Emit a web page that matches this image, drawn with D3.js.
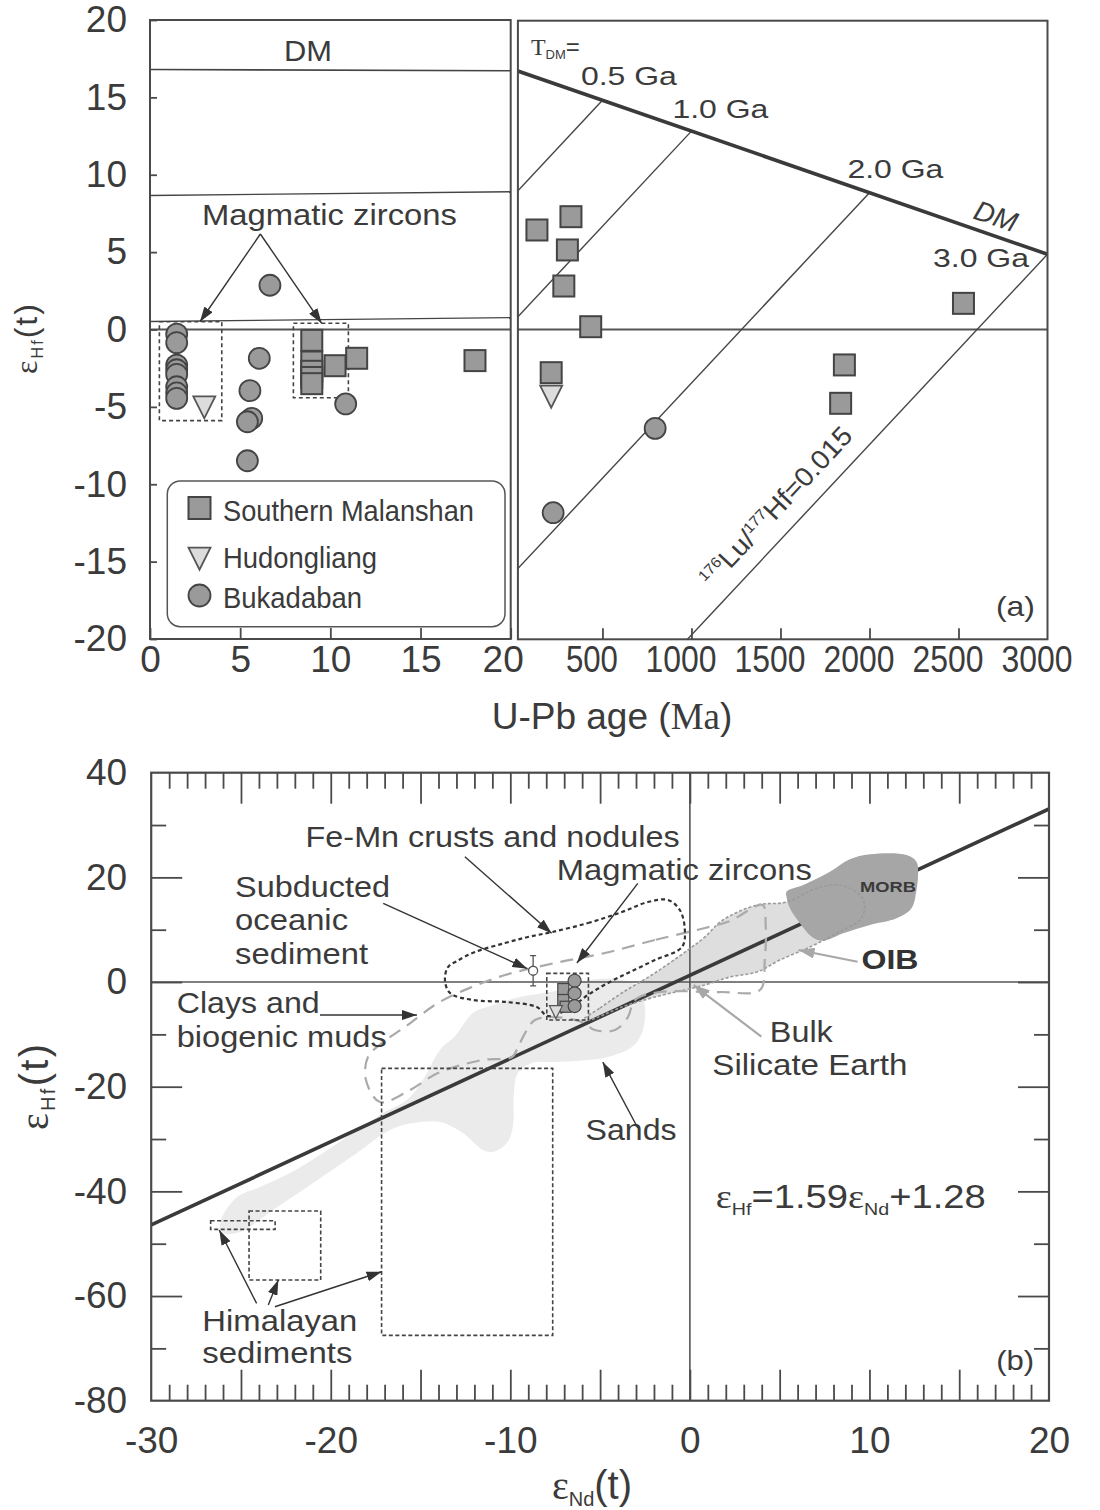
<!DOCTYPE html>
<html>
<head>
<meta charset="utf-8">
<script src="https://cdn.jsdelivr.net/npm/d3@7"></script>
<style>
  body { margin: 0; background: #fff; }
  svg text { font-family: "Liberation Sans", Arial, Helvetica, sans-serif; fill: #3b3b3b; }
</style>
</head>
<body>
<svg id="fig" width="1100" height="1510"></svg>
<script>
// ================= Panel (a): zircon εHf(t) versus U-Pb age =================
// Depleted-mantle evolution and crustal (176Lu/177Hf = 0.015) model-age lines
const dmPresent = 16.8;          // εHf of depleted mantle today
const dmAt3000 = 4.86;           // εHf of depleted mantle at 3000 Ma
const crustSlope = 0.0123;       // εHf change per Myr for 176Lu/177Hf = 0.015
const modelAgesMa = [500, 1000, 2000, 3000];
const modelAgeLabels = ["0.5 Ga", "1.0 Ga", "2.0 Ga", "3.0 Ga"];
const youngPanelModelAges = [500, 1000];

// [U-Pb age (Ma), εHf(t)]
const malanshanYoung = [[8.97, -0.7], [8.97, -2.1], [8.97, -2.7], [8.97, -3.1], [8.97, -3.5],
                        [10.26, -2.34], [11.46, -1.86], [18.02, -2.01]];
const malanshanOld = [[132, 6.43], [323, 7.29], [303, 5.14], [283, 2.81], [434, 0.18],
                      [2528, 1.69], [212, -2.79], [1859, -2.29], [1838, -4.77]];
const hudongliangYoung = [[3.01, -4.79]];
const hudongliangOld = [[212, -4.1]];
const bukadabanYoung = [[1.48, -0.3], [1.48, -0.85], [1.48, -2.3], [1.48, -2.6], [1.48, -2.9],
                        [1.48, -3.7], [1.48, -4.1], [1.48, -4.45], [6.06, -1.86], [5.54, -3.95],
                        [5.64, -5.74], [5.40, -5.96], [5.40, -8.48], [10.85, -4.81], [6.65, 2.86]];
const bukadabanOld = [[796, -6.39], [223, -11.84]];
// magmatic zircon groups: [ageMin, ageMax, εHfMin, εHfMax]
const magmaticGroupsA = [[0.52, 3.98, -5.89, 0.5], [7.95, 11.0, -4.41, 0.4]];

const youngTicks = [0, 5, 10, 15, 20];
const oldTicks = [500, 1000, 1500, 2000, 2500, 3000];
const hfTicksA = [20, 15, 10, 5, 0, -5, -10, -15, -20];
const legendNames = ["Southern Malanshan", "Hudongliang", "Bukadaban"];

// ================= Panel (b): εHf(t) versus εNd(t) =================
const arraySlope = 1.59, arrayIntercept = 1.28;   // terrestrial array
const ndTicks = [-30, -20, -10, 0, 10, 20];
const hfTicksB = [40, 20, 0, -20, -40, -60, -80];

// [εNd, εHf] outlines of the reference fields
const sandsField = [[-26.17,-46.05],[-25.22,-41.08],[-23.94,-39.17],[-22.27,-36.50],[-20.43,-32.67],
  [-18.54,-28.28],[-17.09,-25.03],[-15.76,-22.55],[-14.87,-18.73],[-13.92,-12.99],[-13.08,-10.32],
  [-12.08,-5.92],[-10.97,-4.39],[-9.47,-2.87],[-7.24,-1.53],[-5.57,0.38],[-3.78,0.38],[-2.89,-0.96],
  [-2.50,-4.78],[-2.67,-9.75],[-3.23,-12.42],[-4.57,-14.33],[-5.68,-14.91],[-7.52,-15.29],
  [-8.80,-15.48],[-9.58,-17.39],[-9.80,-21.21],[-9.86,-27.71],[-10.19,-30.77],[-10.97,-32.48],
  [-11.53,-32.10],[-12.64,-28.86],[-13.92,-26.75],[-15.42,-26.94],[-16.70,-28.28],[-18.54,-32.67],
  [-20.99,-38.41],[-23.22,-43.57],[-25.06,-47.78],[-26.00,-47.97]];
const oibField = [[-5.96,-7.26],[-5.01,-4.97],[-3.79,-2.10],[-1.95,1.72],[-0.11,6.12],[0.83,8.60],
  [1.84,11.85],[3.73,14.71],[5.40,15.29],[7.07,17.96],[8.35,18.54],[9.47,16.63],[9.74,14.33],
  [9.47,11.85],[8.52,9.94],[7.80,8.60],[6.68,6.69],[5.01,4.20],[3.73,1.91],[2.23,0.96],
  [0.83,-0.57],[-1.95,-2.87],[-3.79,-4.78],[-5.57,-7.26]];
const morbField = [[5.38,17.26],[6.31,18.54],[7.80,21.08],[8.91,23.45],[10.03,24.40],[12.07,24.27],
  [12.62,22.99],[12.71,20.77],[12.62,17.58],[12.34,14.08],[11.51,12.17],[10.03,10.89],[8.54,9.31],
  [7.42,7.89],[6.78,8.66],[6.13,11.22],[5.57,14.08],[5.38,16.30]];
const claysField = [[0.84,10.32],[-1.95,8.03],[-4.73,5.54],[-7.52,3.63],[-10.30,1.34],[-12.14,-0.96],
  [-14.03,-4.01],[-15.87,-8.60],[-17.15,-11.66],[-17.93,-14.33],[-18.04,-18.73],[-17.26,-22.93],
  [-15.59,-20.64],[-14.03,-17.39],[-11.58,-14.91],[-9.91,-14.33],[-9.57,-12.42],[-9.18,-9.75],
  [-8.63,-7.26],[-7.52,-6.69],[-6.01,-7.64],[-5.29,-9.17],[-4.17,-9.17],[-3.45,-6.69],[-3.06,-3.44],
  [-1.67,-1.91],[1.67,-1.91],[3.90,-1.53],[4.17,4.20],[4.22,10.89],[4.05,14.71],[2.23,11.66]];
const feMnField = [[-7.68,9.55],[-5.68,11.27],[-3.78,13.38],[-2.34,15.29],[-1.22,15.67],[-0.56,13.76],
  [-0.28,9.94],[-0.44,6.69],[-1.95,4.20],[-3.45,1.72],[-4.57,-0.19],[-5.68,-2.48],[-6.68,-4.97],
  [-7.91,-6.50],[-8.52,-4.78],[-10.19,-3.82],[-12.08,-3.44],[-13.36,-2.10],[-13.64,0.38],
  [-13.47,2.87],[-12.97,4.01],[-11.97,5.73],[-10.30,7.45],[-9.02,8.60]];
// Himalayan sediment ranges: [εNdMin, εNdMax, εHfMin, εHfMax]
const himalayanRanges = [[-26.69, -23.10, -47.27, -45.62], [-24.55, -20.56, -56.95, -43.76],
                         [-17.17, -7.64, -67.51, -16.49]];
const magmaticBoxB = [-7.97, -5.65, -7.26, 1.65];
const zirconSquaresB = [[-7.05, -1.34], [-7.05, -3.44], [-6.92, -4.72]];
const zirconCirclesB = [[-6.42, 0.25], [-6.42, -2.16], [-6.42, -4.59]];
const zirconTrianglesB = [[-7.46, -5.35]];
const subductedSediment = { nd: -8.73, hf: 2.16, err: 2.9 };

// ================= drawing =================
const INK = "#3b3b3b", FRAME = "#4a4a4a", SYM = "#9a9a9a", SYM_LIGHT = "#dcdcdc";
const SERIF = '"Liberation Serif", "Times New Roman", serif';
const plainNumber = d => (d < 0 ? "-" + Math.abs(d) : String(d));
const svg = d3.select("#fig");
const defs = svg.append("defs");

function arrowMarker(id, color, len, wid) {
  defs.append("marker").attr("id", id).attr("markerUnits", "userSpaceOnUse")
    .attr("viewBox", `0 0 ${len} ${wid}`).attr("refX", len).attr("refY", wid / 2)
    .attr("markerWidth", len).attr("markerHeight", wid).attr("orient", "auto")
    .append("path").attr("d", `M0,0L${len},${wid / 2}L0,${wid}Z`).attr("fill", color);
}
arrowMarker("arrDark", "#333", 15, 10);
arrowMarker("arrGrey", "#a8a8a8", 16, 11);

function clip(id, x0, y0, x1, y1) {
  defs.append("clipPath").attr("id", id).append("rect")
    .attr("x", x0).attr("y", y0).attr("width", x1 - x0).attr("height", y1 - y0);
}

function text(g, x, y, str, o = {}) {
  const t = g.append("text").attr("x", x).attr("y", y).text(str)
    .attr("font-size", o.size || 29);
  if (o.len) t.attr("textLength", o.len).attr("lengthAdjust", "spacingAndGlyphs");
  if (o.anchor) t.attr("text-anchor", o.anchor);
  if (o.weight) t.attr("font-weight", o.weight);
  if (o.fill) t.style("fill", o.fill);
  return t;
}

function arrow(g, x1, y1, x2, y2, grey) {
  g.append("line").attr("x1", x1).attr("y1", y1).attr("x2", x2).attr("y2", y2)
    .attr("stroke", grey ? "#a8a8a8" : "#333").attr("stroke-width", grey ? 2.2 : 1.4)
    .attr("marker-end", grey ? "url(#arrGrey)" : "url(#arrDark)");
}

function markers(g, pts, shape, xs, ys, sz) {
  const sel = g.append("g");
  if (shape === "circle") {
    sel.selectAll("circle").data(pts).join("circle")
      .attr("cx", d => xs(d[0])).attr("cy", d => ys(d[1])).attr("r", sz / 2)
      .attr("fill", SYM).attr("stroke", "#444").attr("stroke-width", sz > 15 ? 1.8 : 1.2);
  } else if (shape === "square") {
    sel.selectAll("rect").data(pts).join("rect")
      .attr("x", d => xs(d[0]) - sz / 2).attr("y", d => ys(d[1]) - sz / 2)
      .attr("width", sz).attr("height", sz)
      .attr("fill", SYM).attr("stroke", "#444").attr("stroke-width", sz > 15 ? 2 : 1.2);
  } else {
    sel.selectAll("path").data(pts).join("path")
      .attr("d", d => {
        const cx = xs(d[0]), cy = ys(d[1]), h = sz;
        return `M${cx - sz / 2},${cy - h / 3}L${cx + sz / 2},${cy - h / 3}L${cx},${cy + 2 * h / 3}Z`;
      })
      .attr("fill", SYM_LIGHT).attr("stroke", "#555").attr("stroke-width", sz > 15 ? 1.8 : 1.2);
  }
}

function box(g, b, xs, ys, dash) {
  g.append("rect").attr("x", xs(b[0])).attr("y", ys(b[3]))
    .attr("width", xs(b[1]) - xs(b[0])).attr("height", ys(b[2]) - ys(b[3]))
    .attr("fill", "none").attr("stroke", "#444").attr("stroke-width", 1.6)
    .attr("stroke-dasharray", dash);
}

const dm = t => dmPresent - (dmPresent - dmAt3000) * t / 3000;
const crust = (T, t) => dm(T) - crustSlope * (T - t);

// ---------- panel (a) scales ----------
const ya = d3.scaleLinear().domain([-20, 20]).range([639, 20]);
const xaL = d3.scaleLinear().domain([0, 20]).range([150, 510.7]);
const xaR = d3.scaleLinear().domain([25, 3000]).range([517.9, 1047.5]);
clip("clipAL", 150, 20, 510.7, 639);
clip("clipAR", 517.9, 20.7, 1047.5, 639.3);

const gA = svg.append("g");

// --- young (0-20 Ma) panel ---
const gL = gA.append("g").attr("clip-path", "url(#clipAL)");
const lineL = d3.line().x(d => xaL(d[0])).y(d => ya(d[1]));
gL.append("path").attr("d", lineL([[0, 0], [20, 0]])).attr("stroke", "#555").attr("stroke-width", 1.8).attr("fill", "none");
gL.append("path").attr("d", lineL([[0, dm(0)], [20, dm(20)]])).attr("stroke", "#444").attr("stroke-width", 1.6).attr("fill", "none");
youngPanelModelAges.forEach(T => {
  gL.append("path").attr("d", lineL([[0, crust(T, 0)], [20, crust(T, 20)]]))
    .attr("stroke", "#444").attr("stroke-width", 1.4).attr("fill", "none");
});
magmaticGroupsA.forEach(b => box(gL, b, xaL, ya, "4,3"));
markers(gL, malanshanYoung, "square", xaL, ya, 21);
markers(gL, hudongliangYoung, "triangle", xaL, ya, 22);
markers(gL, bukadabanYoung, "circle", xaL, ya, 21);

text(gA, xaL(8.76), ya(17.37), "DM", { size: 29, anchor: "middle", len: 48 });
text(gA, xaL(2.88), ya(6.75), "Magmatic zircons", { size: 29, len: 255 });
arrow(gA, xaL(6.12), ya(6.17), xaL(2.77), ya(0.5));
arrow(gA, xaL(6.12), ya(6.17), xaL(9.52), ya(0.4));

// frame + ticks
gA.append("rect").attr("x", 150).attr("y", 20).attr("width", 360.7).attr("height", 619)
  .attr("fill", "none").attr("stroke", FRAME).attr("stroke-width", 2);
const axYL = gA.append("g").attr("transform", "translate(150,0)")
  .call(d3.axisLeft(ya).tickValues(hfTicksA).tickSize(-7).tickPadding(23).tickFormat(plainNumber));
const axXL = gA.append("g").attr("transform", "translate(0,639)")
  .call(d3.axisBottom(xaL).tickValues(youngTicks).tickSize(-11).tickPadding(7).tickFormat(plainNumber));
[axYL, axXL].forEach(a => {
  a.select(".domain").remove();
  a.selectAll("line").attr("stroke", FRAME).attr("stroke-width", 1.8);
  a.selectAll("text").attr("font-size", 37).attr("font-family", null).attr("fill", null);
});
axXL.selectAll(".tick").filter(d => d === 20).select("text").attr("dx", -8);

// legend
const lg = gA.append("g");
lg.append("rect").attr("x", 167.3).attr("y", 481).attr("width", 337.7).attr("height", 145.7)
  .attr("rx", 13).attr("fill", "#fff").attr("stroke", "#555").attr("stroke-width", 1.5);
const legendRows = [
  { shape: "square", cy: 508, base: 520.7, len: 251 },
  { shape: "triangle", cy: 555, base: 568.3, len: 154 },
  { shape: "circle", cy: 595.5, base: 608.3, len: 139 }
];
legendRows.forEach((r, i) => {
  const id = d3.scaleIdentity();
  markers(lg, [[199.5, r.cy]], r.shape, id, id, 22);
  text(lg, 223, r.base, legendNames[i], { size: 29, len: r.len });
});

// --- old (Ma to Ga) panel ---
const gR = gA.append("g").attr("clip-path", "url(#clipAR)");
const lineR = d3.line().x(d => xaR(d[0])).y(d => ya(d[1]));
gR.append("path").attr("d", lineR([[0, 0], [3000, 0]])).attr("stroke", "#555").attr("stroke-width", 1.8).attr("fill", "none");
modelAgesMa.forEach(T => {
  gR.append("path").attr("d", lineR([[0, crust(T, 0)], [T, dm(T)]]))
    .attr("stroke", "#444").attr("stroke-width", 1.4).attr("fill", "none");
});
gR.append("path").attr("d", lineR([[0, dm(0)], [3000, dm(3000)]]))
  .attr("stroke", "#3a3a3a").attr("stroke-width", 3.6).attr("fill", "none");
markers(gR, malanshanOld, "square", xaR, ya, 21);
markers(gR, hudongliangOld, "triangle", xaR, ya, 22);
markers(gR, bukadabanOld, "circle", xaR, ya, 21);

// T_DM labels
const tdm = gA.append("text").attr("x", xaR(98)).attr("y", ya(17.74)).attr("font-size", 24);
tdm.append("tspan").text("T").attr("font-family", SERIF);
tdm.append("tspan").text("DM").attr("font-size", 13).attr("dy", 4);
tdm.append("tspan").text("=").attr("dy", -4);
const modelLabelPos = [[379, 15.80], [893, 13.65], [1876, 9.77], [2357, 4.06]];
modelAgeLabels.forEach((s, i) => text(gA, xaR(modelLabelPos[i][0]), ya(modelLabelPos[i][1]), s, { size: 26, len: 96 }));

const dmAngle = Math.atan2(ya(dm(3000)) - ya(dm(0)), xaR(3000) - xaR(0)) * 180 / Math.PI;
gA.append("text").attr("transform", `translate(${xaR(2692)},${ya(6.73)}) rotate(${dmAngle})`)
  .attr("text-anchor", "middle").attr("font-size", 28).attr("font-style", "italic").text("DM");

const crustAngle = Math.atan2(ya(crust(3000, 1000)) - ya(crust(3000, 0)), xaR(1000) - xaR(0)) * 180 / Math.PI;
const lu = gA.append("text").attr("transform", `translate(${xaR(1514)},${ya(-11.86)}) rotate(${crustAngle})`)
  .attr("text-anchor", "middle").attr("font-size", 27).attr("textLength", 208).attr("lengthAdjust", "spacingAndGlyphs");
lu.append("tspan").text("176").attr("font-size", 15).attr("dy", -10);
lu.append("tspan").text("Lu/").attr("dy", 10);
lu.append("tspan").text("177").attr("font-size", 15).attr("dy", -10);
lu.append("tspan").text("Hf=0.015").attr("dy", 10);

text(gA, xaR(2710), ya(-18.51), "(a)", { size: 28, len: 39 });

gA.append("rect").attr("x", 517.9).attr("y", 20.7).attr("width", 529.6).attr("height", 618.6)
  .attr("fill", "none").attr("stroke", FRAME).attr("stroke-width", 2);
const axXRt = gA.append("g").attr("transform", "translate(0,639.3)")
  .call(d3.axisBottom(xaR).tickValues(oldTicks.filter(d => d < 3000)).tickSize(-11).tickFormat(""));
const axXR = gA.append("g").attr("transform", "translate(0,639.3)")
  .call(d3.axisBottom(xaR).tickValues(oldTicks).tickSize(0).tickPadding(6).tickFormat(plainNumber));
[axXRt, axXR].forEach(a => {
  a.select(".domain").remove();
  a.selectAll("line").attr("stroke", FRAME).attr("stroke-width", 1.8);
  a.selectAll("text").attr("font-size", 37).attr("font-family", null).attr("fill", null)
    .attr("dx", -11).attr("textLength", d => d >= 1000 ? 71 : 52).attr("lengthAdjust", "spacingAndGlyphs");
});

// axis titles (a)
const xtA = gA.append("text").attr("x", 612).attr("y", 729).attr("text-anchor", "middle").attr("font-size", 37);
xtA.append("tspan").text("U-Pb age (");
xtA.append("tspan").text("Ma").attr("font-family", SERIF);
xtA.append("tspan").text(")");
const ytA = gA.append("text").attr("transform", "translate(37,339) rotate(-90)")
  .attr("text-anchor", "middle").attr("font-size", 32).attr("textLength", 70);
ytA.append("tspan").text("ε").attr("font-family", SERIF);
ytA.append("tspan").text("Hf").attr("font-size", 16).attr("dy", 6);
ytA.append("tspan").text("(t)").attr("dy", -6);

// ---------- panel (b) ----------
const xb = d3.scaleLinear().domain([-30, 20]).range([151.2, 1049]);
const yb = d3.scaleLinear().domain([-80, 40]).range([1400.7, 772.7]);
clip("clipB", 151.2, 772.7, 1049, 1400.7);
const gB = svg.append("g");
const gBc = gB.append("g").attr("clip-path", "url(#clipB)");
const lineB = d3.line().x(d => xb(d[0])).y(d => yb(d[1]));
const blob = d3.line().x(d => xb(d[0])).y(d => yb(d[1])).curve(d3.curveCatmullRomClosed.alpha(0.5));

gBc.append("path").attr("d", blob(sandsField)).attr("fill", "#ebebeb");
gBc.append("path").attr("d", blob(oibField)).attr("fill", "#dedede");
gBc.append("path").attr("d", lineB([[-30, 0], [20, 0]])).attr("stroke", "#555").attr("stroke-width", 1.6);
gBc.append("path").attr("d", lineB([[0, -80], [0, 40]])).attr("stroke", "#555").attr("stroke-width", 1.6);
gBc.append("path").attr("d", lineB([[-30, arraySlope * -30 + arrayIntercept], [20, arraySlope * 20 + arrayIntercept]]))
  .attr("stroke", "#3a3a3a").attr("stroke-width", 3.6).attr("fill", "none");
gBc.append("path").attr("d", blob(morbField)).attr("fill", "#a6a6a6");
gBc.append("path").attr("d", blob(oibField)).attr("fill", "none").attr("stroke", "#9a9a9a")
  .attr("stroke-width", 1.6).attr("stroke-dasharray", "3,2");
gBc.append("path").attr("d", blob(claysField)).attr("fill", "none").attr("stroke", "#aaaaaa")
  .attr("stroke-width", 2.2).attr("stroke-dasharray", "13,8");
gBc.append("path").attr("d", blob(feMnField)).attr("fill", "none").attr("stroke", "#333")
  .attr("stroke-width", 2.2).attr("stroke-dasharray", "4,3");
himalayanRanges.forEach(b => box(gBc, b, xb, yb, "4,2.5"));
box(gBc, magmaticBoxB, xb, yb, "4,2.5");
markers(gBc, zirconSquaresB, "square", xb, yb, 11);
markers(gBc, zirconTrianglesB, "triangle", xb, yb, 13);
markers(gBc, zirconCirclesB, "circle", xb, yb, 13);

// subducted oceanic sediment with error bar
const ss = subductedSediment;
gBc.append("path").attr("d", lineB([[ss.nd, ss.hf - ss.err], [ss.nd, ss.hf + ss.err]])).attr("stroke", "#555").attr("stroke-width", 1.3);
[ss.hf - ss.err, ss.hf + ss.err].forEach(v => {
  gBc.append("line").attr("x1", xb(ss.nd) - 3).attr("x2", xb(ss.nd) + 3)
    .attr("y1", yb(v)).attr("y2", yb(v)).attr("stroke", "#555").attr("stroke-width", 1.3);
});
gBc.append("circle").attr("cx", xb(ss.nd)).attr("cy", yb(ss.hf)).attr("r", 4.5)
  .attr("fill", "#fff").attr("stroke", "#555").attr("stroke-width", 1.3);

// annotations
text(gB, xb(-21.40), yb(25.74), "Fe-Mn crusts and nodules", { len: 374 });
arrow(gB, xb(-12.53), yb(23.94), xb(-7.70), yb(9.31));
text(gB, xb(-7.41), yb(19.49), "Magmatic zircons", { len: 255 });
arrow(gB, xb(-2.90), yb(18.86), xb(-6.29), yb(3.63));
text(gB, xb(-25.33), yb(16.18), "Subducted", { len: 155 });
text(gB, xb(-25.33), yb(9.94), "oceanic", { len: 113 });
text(gB, xb(-25.33), yb(3.44), "sediment", { len: 133 });
arrow(gB, xb(-17.08), yb(15.04), xb(-9.05), yb(2.55));
text(gB, xb(-28.58), yb(-5.98), "Clays and", { len: 143 });
text(gB, xb(-28.58), yb(-12.36), "biogenic muds", { len: 210 });
arrow(gB, xb(-20.60), yb(-6.31), xb(-15.20), yb(-6.31));
text(gB, xb(9.56), yb(2.43), "OIB", { size: 28, weight: "bold", len: 57, fill: "#333" });
arrow(gB, xb(9.34), yb(3.88), xb(6.05), yb(6.12), true);
text(gB, xb(9.47), yb(17.26), "MORB", { size: 15, weight: "bold", len: 56, fill: "#3a3a3a" });
text(gB, xb(4.45), yb(-11.41), "Bulk", { len: 63 });
text(gB, xb(1.25), yb(-17.77), "Silicate Earth", { len: 195 });
arrow(gB, xb(3.98), yb(-10.45), xb(0.21), yb(-0.57), true);
text(gB, xb(-5.81), yb(-30.19), "Sands", { len: 91 });
arrow(gB, xb(-2.90), yb(-27.90), xb(-4.85), yb(-15.29));
text(gB, xb(-27.15), yb(-66.63), "Himalayan", { len: 155 });
text(gB, xb(-27.15), yb(-72.86), "sediments", { len: 150 });
arrow(gB, xb(-24.13), yb(-61.40), xb(-26.21), yb(-47.39));
arrow(gB, xb(-23.48), yb(-61.72), xb(-22.92), yb(-56.95));
arrow(gB, xb(-23.11), yb(-62.05), xb(-17.17), yb(-55.36));
text(gB, xb(17.06), yb(-74.14), "(b)", { size: 28, len: 38 });

const eq = gB.append("text").attr("x", xb(1.44)).attr("y", yb(-43.25)).attr("font-size", 33)
  .attr("textLength", 270).attr("lengthAdjust", "spacingAndGlyphs");
eq.append("tspan").text("ε").attr("font-family", SERIF);
eq.append("tspan").text("Hf").attr("font-size", 17).attr("dy", 7);
eq.append("tspan").text(`=${arraySlope}`).attr("dy", -7);
eq.append("tspan").text("ε").attr("font-family", SERIF);
eq.append("tspan").text("Nd").attr("font-size", 17).attr("dy", 7);
eq.append("tspan").text(`+${arrayIntercept}`).attr("dy", -7);

// frame and ticks
gB.append("rect").attr("x", 151.2).attr("y", 772.7).attr("width", 897.8).attr("height", 628)
  .attr("fill", "none").attr("stroke", FRAME).attr("stroke-width", 2.2);
const ndMinor = d3.range(-29, 20, 1).filter(d => d % 5 !== 0);
const ndMajor = d3.range(-25, 20, 5);
const hfMinor = [30, 10, -10, -30, -50, -70];
const hfMajor = [20, 0, -20, -40, -60];
const axesB = [
  gB.append("g").attr("transform", "translate(0,1400.7)").call(d3.axisBottom(xb).tickValues(ndMinor).tickSize(-16).tickFormat("")),
  gB.append("g").attr("transform", "translate(0,1400.7)").call(d3.axisBottom(xb).tickValues(ndMajor).tickSize(-31).tickFormat("")),
  gB.append("g").attr("transform", "translate(0,772.7)").call(d3.axisTop(xb).tickValues(ndMinor).tickSize(-16).tickFormat("")),
  gB.append("g").attr("transform", "translate(0,772.7)").call(d3.axisTop(xb).tickValues(ndMajor).tickSize(-31).tickFormat("")),
  gB.append("g").attr("transform", "translate(151.2,0)").call(d3.axisLeft(yb).tickValues(hfMinor).tickSize(-15).tickFormat("")),
  gB.append("g").attr("transform", "translate(151.2,0)").call(d3.axisLeft(yb).tickValues(hfMajor).tickSize(-31).tickFormat("")),
  gB.append("g").attr("transform", "translate(1049,0)").call(d3.axisRight(yb).tickValues(hfMinor).tickSize(-15).tickFormat("")),
  gB.append("g").attr("transform", "translate(1049,0)").call(d3.axisRight(yb).tickValues(hfMajor).tickSize(-31).tickFormat("")),
  gB.append("g").attr("transform", "translate(0,1400.7)").call(d3.axisBottom(xb).tickValues(ndTicks).tickSize(0).tickPadding(26).tickFormat(plainNumber)),
  gB.append("g").attr("transform", "translate(151.2,0)").call(d3.axisLeft(yb).tickValues(hfTicksB).tickSize(0).tickPadding(24).tickFormat(plainNumber))
];
axesB.forEach(a => {
  a.select(".domain").remove();
  a.selectAll("line").attr("stroke", FRAME).attr("stroke-width", 1.8);
  a.selectAll("text").attr("font-size", 37).attr("font-family", null).attr("fill", null);
});

const xtB = gB.append("text").attr("x", 592).attr("y", 1499).attr("text-anchor", "middle")
  .attr("font-size", 40).attr("textLength", 80);
xtB.append("tspan").text("ε").attr("font-family", SERIF);
xtB.append("tspan").text("Nd").attr("font-size", 20).attr("dy", 7);
xtB.append("tspan").text("(t)").attr("dy", -7);
const ytB = gB.append("text").attr("transform", "translate(48,1087) rotate(-90)")
  .attr("text-anchor", "middle").attr("font-size", 40).attr("textLength", 86);
ytB.append("tspan").text("ε").attr("font-family", SERIF);
ytB.append("tspan").text("Hf").attr("font-size", 20).attr("dy", 7);
ytB.append("tspan").text("(t)").attr("dy", -7);
</script>
</body>
</html>
